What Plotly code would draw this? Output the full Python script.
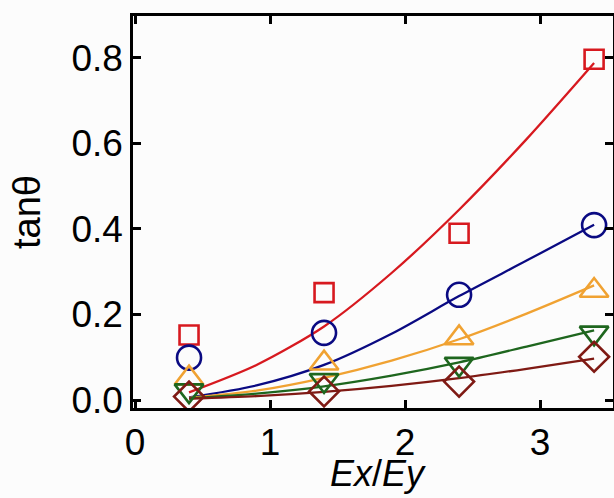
import plotly.graph_objects as go

# marker data
x_pts = [0.4, 1.4, 2.4, 3.4]
red_sq = [0.152, 0.251, 0.390, 0.797]
blue_circ = [0.099, 0.157, 0.246, 0.409]
orange_tri = [0.051, 0.086, 0.145, 0.256]
green_tri = [0.022, 0.046, 0.084, 0.157]
brown_dia = [0.008, 0.020, 0.043, 0.101]

# fitted curves
x_fit = [0.4, 0.9, 1.4, 1.9, 2.4, 2.9, 3.4]
red_fit = [0.018, 0.082, 0.172, 0.297, 0.445, 0.61, 0.788]
blue_fit = [0.006, 0.034, 0.082, 0.155, 0.243, 0.326, 0.41]
orange_fit = [0.005, 0.022, 0.052, 0.092, 0.142, 0.202, 0.268]
green_fit = [0.004, 0.015, 0.032, 0.057, 0.088, 0.125, 0.163]
brown_fit = [0.003, 0.009, 0.019, 0.033, 0.051, 0.073, 0.097]

x_ticks = [0, 1, 2, 3]
y_ticks = [0.0, 0.2, 0.4, 0.6, 0.8]

RED = "#d7191f"
BLUE = "#0a0a82"
ORANGE = "#f0a232"
GREEN = "#1e661e"
BROWN = "#7f1a14"

series = [
    (red_fit, red_sq, RED, "square-open", 19),
    (blue_fit, blue_circ, BLUE, "circle-open", 24),
    (orange_fit, orange_tri, ORANGE, "triangle-up-open", 25),
    (green_fit, green_tri, GREEN, "triangle-down-open", 25),
    (brown_fit, brown_dia, BROWN, "diamond-open", 23),
]

fig = go.Figure()
for fit, pts, col, sym, sz in series:
    fig.add_trace(go.Scatter(x=x_fit, y=fit, mode="lines",
                             line=dict(color=col, width=2.3, shape="spline", smoothing=0.8),
                             hoverinfo="skip"))
for fit, pts, col, sym, sz in series:
    fig.add_trace(go.Scatter(x=x_pts, y=pts, mode="markers",
                             marker=dict(symbol=sym, size=sz, color=col,
                                         line=dict(color=col, width=2.6))))

axis_common = dict(
    showline=True, linecolor="black", linewidth=2.5, mirror="allticks",
    ticks="inside", ticklen=8, tickwidth=2.5, tickcolor="black",
    showgrid=False, zeroline=False, automargin=False,
    tickfont=dict(family="Liberation Sans, Arial", size=37, color="black"),
)

fig.update_layout(
    width=614, height=498,
    margin=dict(l=133, r=1, t=16, b=90),
    paper_bgcolor="#fcfcfc", plot_bgcolor="#fcfcfc",
    showlegend=False,
    xaxis=dict(range=[-0.015, 3.54], tickvals=x_ticks,
               ticktext=[str(v) for v in x_ticks],
               **axis_common),
    yaxis=dict(range=[-0.0187, 0.898], tickvals=y_ticks,
               ticktext=[f"{v:.1f}" for v in y_ticks],
               title=dict(text="tanθ",
                          font=dict(family="Liberation Sans, Arial", size=38, color="black"),
                          standoff=20),
               **axis_common),
    annotations=[dict(
        text="<i>E</i><i>x</i>/<i>E</i><i>y</i>",
        xref="paper", yref="paper", x=0.51, y=-0.168,
        xanchor="center", yanchor="middle", showarrow=False,
        font=dict(family="Liberation Sans, Arial", size=36, color="black"),
    )],
)

fig.write_html("out.html",
               config={"displayModeBar": False},
               post_script="document.body.style.margin='0';document.body.style.background='#fcfcfc';")
